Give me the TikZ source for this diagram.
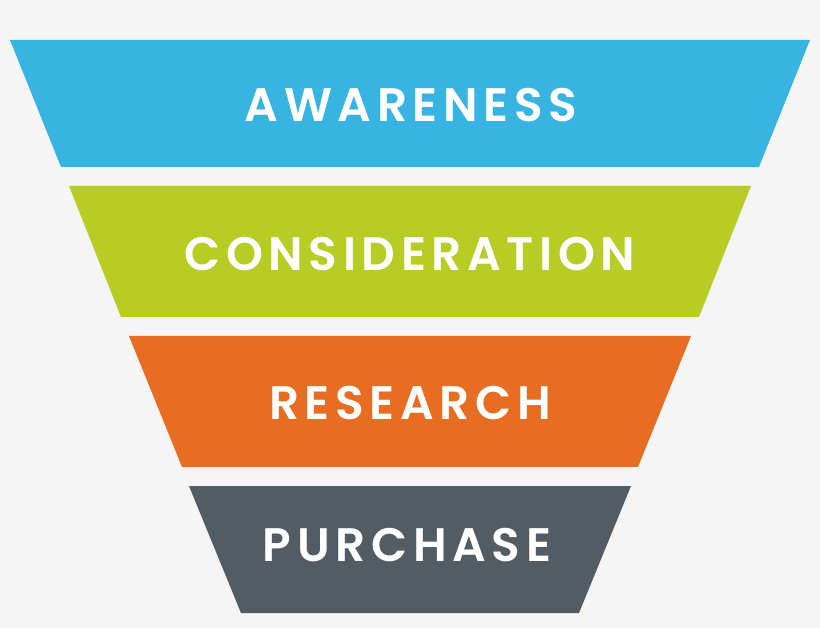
\documentclass[tikz,border=0pt]{standalone}
\usepackage{fontspec}
\setmainfont{Poppins}[UprightFont=* SemiBold, BoldFont=* Bold]
\newfontfamily\bandfont{Poppins}[UprightFont=* SemiBold, LetterSpace=12]
\definecolor{bgc}{HTML}{F5F5F5}
\definecolor{c1}{HTML}{38B4E2}
\definecolor{c2}{HTML}{B7CD26}
\definecolor{c3}{HTML}{E66D22}
\definecolor{c4}{HTML}{535B63}
\tikzset{
  band/.style={draw=none},
  bandtext/.style={text=white, font=\bandfont\fontsize{47}{49}\selectfont, inner sep=0pt, anchor=center}
}
\begin{document}
\begin{tikzpicture}[x=1pt,y=-1pt]
\fill[bgc] (0,0) rectangle (820,628);
\useasboundingbox (0,0) rectangle (820,628);
\fill[band,c1] (10,40) -- (810,40) -- (759,167) -- (61,167) -- cycle;
\fill[band,c2] (69,186) -- (751,186) -- (699,317) -- (121,317) -- cycle;
\fill[band,c3] (129,336) -- (691,336) -- (638,467) -- (182,467) -- cycle;
\fill[band,c4] (189,486) -- (631,486) -- (579,613) -- (241,613) -- cycle;
\node[bandtext] (awareness) at (411,105) {AWARENESS};
\node[bandtext] (consideration) at (410,254) {CONSIDERATION};
\node[bandtext] (research) at (410,403) {RESEARCH};
\node[bandtext] (purchase) at (407,545) {PURCHASE};
\end{tikzpicture}
\end{document}
